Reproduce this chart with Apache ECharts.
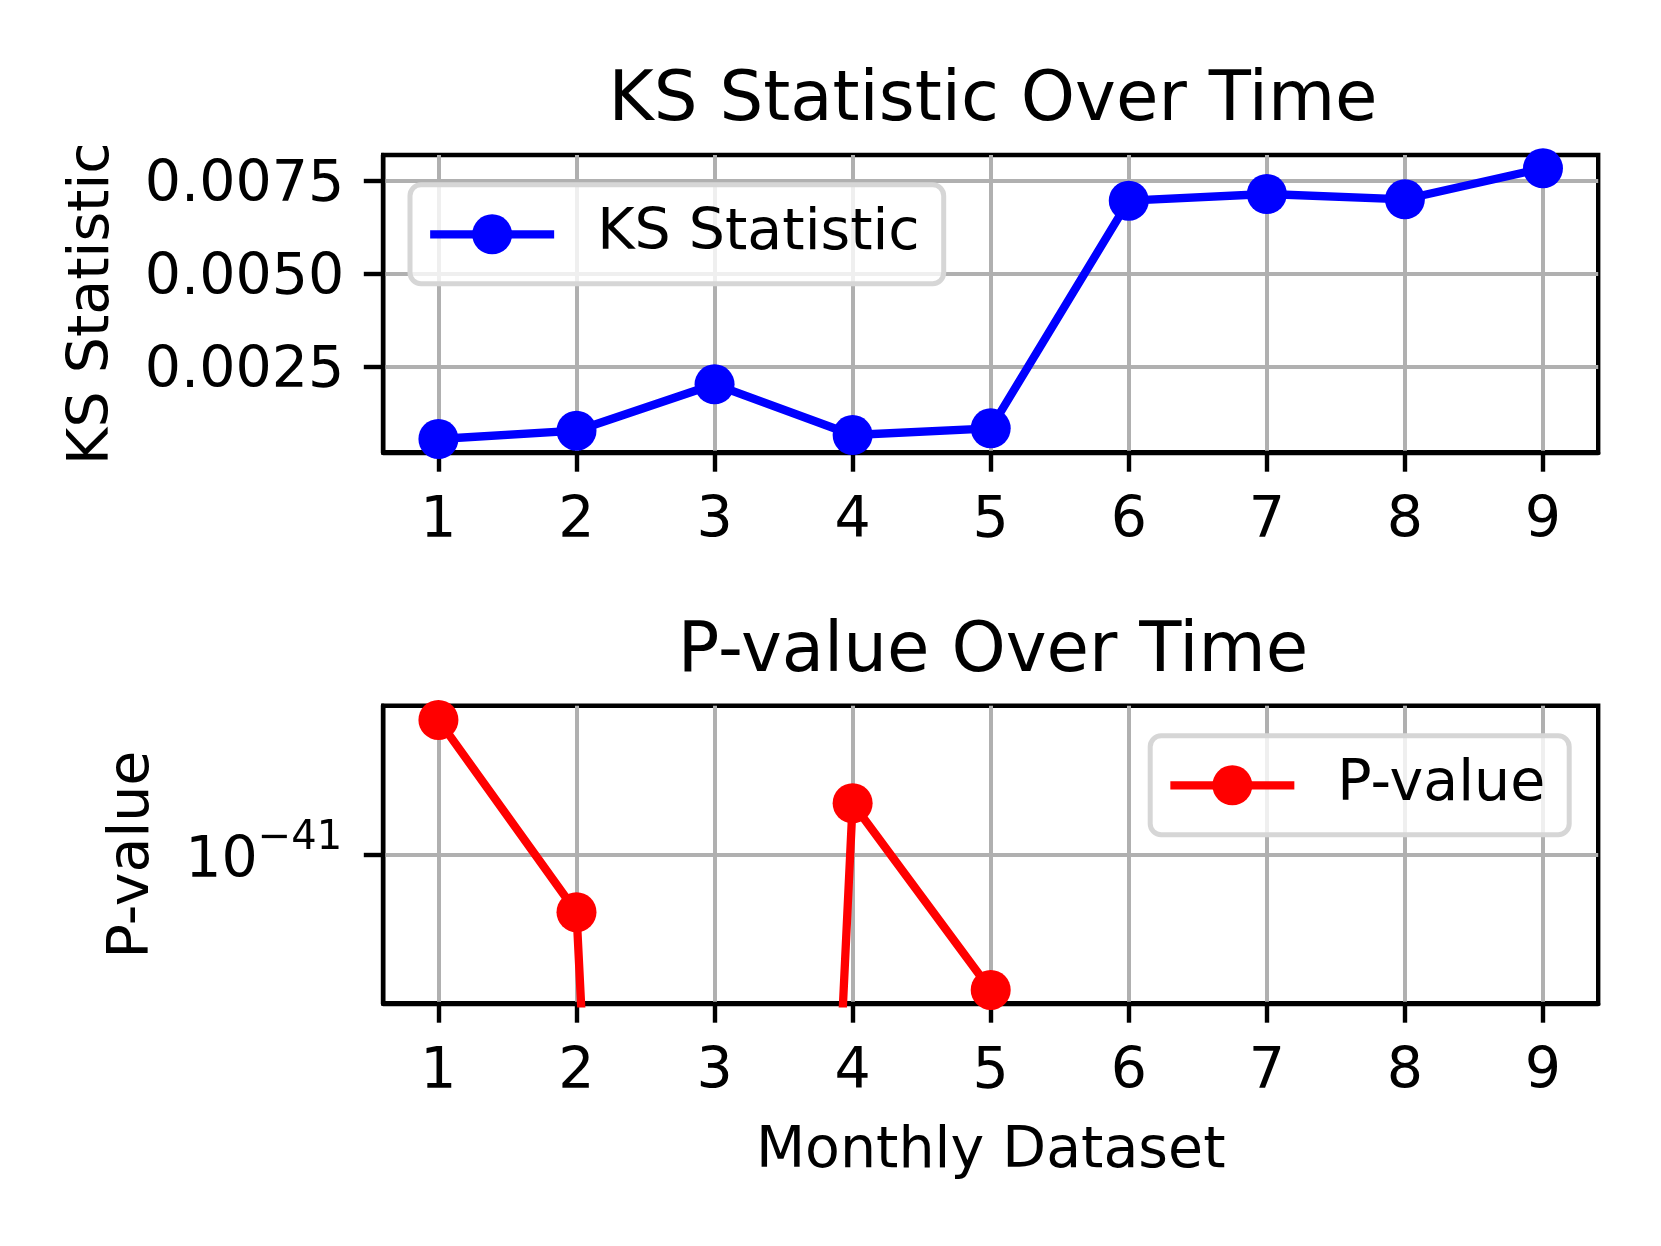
<!DOCTYPE html>
<html>
<head>
<meta charset="utf-8">
<script src="https://cdn.jsdelivr.net/npm/echarts@6/dist/echarts.min.js"></script>
<style>
html,body{margin:0;padding:0;background:#fff;}
#chart{width:1661px;height:1246px;}
</style>
</head>
<body>
<div id="chart"></div>
<script>
// ---- data ----
const months = [1, 2, 3, 4, 5, 6, 7, 8, 9];
const ksStatistic = [0.000564, 0.000787, 0.002033, 0.000671, 0.000851, 0.006963, 0.007143, 0.007001, 0.007833];
// p-values of 0 underflowed; they fall far below the visible log range
const pValue = [3.2e-28, 1.9e-47, 0, 1.5e-36, 3.2e-55, 0, 0, 0, 0];
const xTicks = [1, 2, 3, 4, 5, 6, 7, 8, 9];
const ksTicks = [0.0025, 0.0050, 0.0075];
const pTickExponents = [-41];          // decade ticks of the log axis (10^-41)
const pRange = [1.48e-56, 8.5e-27];     // visible p-value range

const FONT = 'DejaVu Sans';
const FS = 57;
const TFS = 69;
const SPINE = 4.4;
const GRID_C = '#b0b0b0';

// log axis cannot show 0: clip to the smallest positive number, as matplotlib does
const pPlot = pValue.map(v => (v > 0 ? v : Number.MIN_VALUE));

const chart = echarts.init(document.getElementById('chart'), null, {renderer: 'canvas'});

function xAxisDef(gridIndex, withName) {
  return {
    type: 'value', gridIndex: gridIndex, min: 0.6, max: 9.4,
    name: withName ? 'Monthly Dataset' : '',
    nameLocation: 'middle', nameGap: 120,
    nameTextStyle: {fontFamily: FONT, fontSize: FS, color: '#000', lineHeight: FS},
    axisLine: {show: true, onZero: false, lineStyle: {color: '#000', width: SPINE}},
    axisTick: {show: true, customValues: xTicks, length: 19.4, lineStyle: {color: '#000', width: SPINE}},
    axisLabel: {show: true, customValues: xTicks, margin: 41, fontFamily: FONT, fontSize: FS, color: '#000', lineHeight: FS,
      formatter: v => String(v)},
    splitLine: {show: true, lineStyle: {color: GRID_C, width: 4}},
    minorTick: {show: false}
  };
}

const legendCommon = {
  orient: 'vertical',
  padding: [20, 24, 20, 16], itemWidth: 124, itemHeight: 50,
  backgroundColor: 'rgba(255,255,255,0.8)', borderColor: '#d6d6d6', borderWidth: 5, borderRadius: 11,
  lineStyle: {width: 8.3},
  textStyle: {fontFamily: FONT, fontSize: FS, color: '#000', lineHeight: 59, padding: [0, 0, 0, 38]}
};

const option = {
  backgroundColor: '#fff',
  animation: false,
  title: [
    {text: 'KS Statistic Over Time', left: 988, top: 63, textAlign: 'center',
     textStyle: {fontFamily: FONT, fontSize: TFS, fontWeight: 'normal', color: '#000', lineHeight: TFS}},
    {text: 'P-value Over Time', left: 988, top: 614, textAlign: 'center',
     textStyle: {fontFamily: FONT, fontSize: TFS, fontWeight: 'normal', color: '#000', lineHeight: TFS}}
  ],
  grid: [
    {left: 383.2, top: 155, width: 1215, height: 297.3, show: true, borderColor: '#000', borderWidth: SPINE, backgroundColor: 'transparent'},
    {left: 383.2, top: 705.7, width: 1215, height: 297.6, show: true, borderColor: '#000', borderWidth: SPINE, backgroundColor: 'transparent'}
  ],
  legend: [
    Object.assign({data: ['KS Statistic'], left: 410, top: 184.8}, legendCommon),
    Object.assign({data: ['P-value'], right: 91.8, top: 735.8}, legendCommon)
  ],
  xAxis: [xAxisDef(0, false), xAxisDef(1, true)],
  yAxis: [
    {type: 'value', gridIndex: 0, min: 0.000207, max: 0.00819,
     name: 'KS Statistic', nameLocation: 'middle', nameGap: 262, nameRotate: 90,
     nameTextStyle: {fontFamily: FONT, fontSize: FS, color: '#000', lineHeight: FS},
     axisLine: {show: true, lineStyle: {color: '#000', width: SPINE}},
     axisTick: {show: true, customValues: ksTicks, length: 19.4, lineStyle: {color: '#000', width: SPINE}},
     axisLabel: {show: true, customValues: ksTicks, margin: 39, color: '#000',
       formatter: v => '{v|' + v.toFixed(4) + '}',
       rich: {v: {fontFamily: FONT, fontSize: FS, color: '#000', lineHeight: FS, padding: [10, 0, 0, 0]}}},
     splitLine: {show: true, lineStyle: {color: GRID_C, width: 4}}
    },
    // log-scale axis carrying the p-value series
    {type: 'log', logBase: 10, gridIndex: 1, min: pRange[0], max: pRange[1],
     name: 'P-value', nameLocation: 'middle', nameGap: 222, nameRotate: 90,
     nameTextStyle: {fontFamily: FONT, fontSize: FS, color: '#000', lineHeight: FS},
     axisLine: {show: true, lineStyle: {color: '#000', width: SPINE}},
     axisTick: {show: false}, axisLabel: {show: false},
     splitLine: {show: false}, minorTick: {show: false}, minorSplitLine: {show: false}
    },
    // decade ticks of the same log axis, expressed as exponents
    {type: 'value', gridIndex: 1, position: 'left',
     min: Math.log10(pRange[0]), max: Math.log10(pRange[1]),
     axisLine: {show: false},
     axisTick: {show: true, customValues: pTickExponents, length: 19.4, lineStyle: {color: '#000', width: SPINE}},
     axisLabel: {show: true, customValues: pTickExponents, margin: 41, color: '#000',
       formatter: v => '{a|10}{b|\u2212' + Math.round(-v) + '}',
       rich: {
         a: {fontFamily: FONT, fontSize: FS, color: '#000', lineHeight: 72, verticalAlign: 'bottom'},
         b: {fontFamily: FONT, fontSize: 40, color: '#000', lineHeight: 40, verticalAlign: 'top'}
       }},
     splitLine: {show: true, lineStyle: {color: GRID_C, width: 4}}
    }
  ],
  series: [
    {name: 'KS Statistic', type: 'line', xAxisIndex: 0, yAxisIndex: 0,
     data: months.map((m, i) => [m, ksStatistic[i]]),
     color: '#0000ff', symbol: 'circle', symbolSize: 40, showSymbol: true,
     lineStyle: {color: '#0000ff', width: 8.3}, itemStyle: {color: '#0000ff'},
     clip: true, z: 3},
    {name: 'P-value', type: 'line', xAxisIndex: 1, yAxisIndex: 1,
     data: months.map((m, i) => [m, pPlot[i]]),
     color: '#ff0000', symbol: 'circle', symbolSize: 40, showSymbol: true,
     lineStyle: {color: '#ff0000', width: 8.3}, itemStyle: {color: '#ff0000'},
     clip: true, z: 3}
  ]
};
chart.setOption(option);
</script>
</body>
</html>
